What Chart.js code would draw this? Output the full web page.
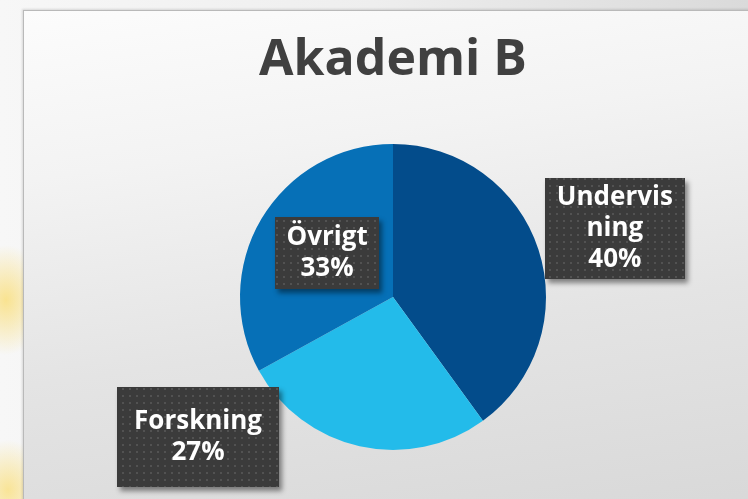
<!DOCTYPE html>
<html>
<head>
<meta charset="utf-8">
<script src="https://cdn.jsdelivr.net/npm/chart.js@4/dist/chart.umd.min.js"></script>
<style>
  html, body { margin: 0; padding: 0; }
  body {
    width: 748px; height: 499px; overflow: hidden; position: relative;
    background:
      radial-gradient(ellipse 40px 55px at 6px 300px, rgba(250, 220, 110, 0.75), rgba(250, 220, 110, 0) 100%),
      radial-gradient(ellipse 40px 50px at 8px 490px, rgba(250, 220, 110, 0.7), rgba(250, 220, 110, 0) 100%),
      linear-gradient(90deg, #f7f7f7 0%, #eeeeee 50%, #dadada 100%);
  }
  #panel {
    position: absolute; left: 23px; top: 10px; width: 740px; height: 500px;
    border: 1px solid #b9b9b9;
    box-shadow: -1px -1px 2px rgba(0, 0, 0, 0.12);
    background: linear-gradient(172deg, #fcfcfc 0%, #f3f3f3 28%, #e4e4e4 62%, #d8d8d8 100%);
  }
  #chart { position: absolute; left: 0; top: 0; }
</style>
</head>
<body>
<div id="panel"></div>
<canvas id="chart" width="748" height="499"></canvas>
<script>
const title = 'Akademi B';
const categories = ['Undervisning', 'Forskning', 'Övrigt'];
const shares = [40, 27, 33];
const sliceColors = ['#034c8b', '#23bbea', '#0670b7'];

// label boxes: where they sit around the pie and how the text wraps
const labelBoxes = [
  { angle: -17.2, dist: 1.518, w: 140, h: 101, lines: ['Undervis', 'ning'] },
  { angle: 144.3, dist: 1.569, w: 162, h: 100, lines: ['Forskning'] },
  { angle: -146.3, dist: 0.518, w: 104, h: 72, lines: ['Övrigt'] }
];

function dotPattern(ctx) {
  const c = document.createElement('canvas');
  c.width = 7; c.height = 7;
  const p = c.getContext('2d');
  p.fillStyle = '#3b3b3b';
  p.fillRect(0, 0, 7, 7);
  p.fillStyle = '#525252';
  p.fillRect(3, 3, 2, 2);
  return ctx.createPattern(c, 'repeat');
}

const boxLabels = {
  id: 'boxLabels',
  afterDatasetsDraw(chart, args, opts) {
    const ctx = chart.ctx;
    const meta = chart.getDatasetMeta(0);
    const values = chart.data.datasets[0].data;
    const total = values.reduce((a, b) => a + b, 0);
    const fill = dotPattern(ctx);
    meta.data.forEach((arc, i) => {
      const b = opts.boxes[i];
      const a = b.angle * Math.PI / 180;
      const cx = arc.x + Math.cos(a) * b.dist * arc.outerRadius;
      const cy = arc.y + Math.sin(a) * b.dist * arc.outerRadius;
      const x0 = Math.round(cx - b.w / 2), y0 = Math.round(cy - b.h / 2);

      ctx.save();
      ctx.shadowColor = 'rgba(0,0,0,0.45)';
      ctx.shadowBlur = 5;
      ctx.shadowOffsetX = 3;
      ctx.shadowOffsetY = 4;
      ctx.fillStyle = '#3b3b3b';
      ctx.fillRect(x0, y0, b.w, b.h);
      ctx.restore();
      ctx.save();
      ctx.fillStyle = fill;
      ctx.fillRect(x0, y0, b.w, b.h);

      const lines = b.lines.concat([Math.round(values[i] / total * 100) + '%']);
      ctx.fillStyle = '#ffffff';
      ctx.font = 'bold 26px "Open Sans"';
      ctx.textAlign = 'center';
      ctx.textBaseline = 'middle';
      const lh = opts.lineHeight;
      lines.forEach((t, k) => {
        ctx.fillText(t, cx, cy + (k - (lines.length - 1) / 2) * lh);
      });
      ctx.restore();
    });
  }
};

new Chart(document.getElementById('chart'), {
  type: 'pie',
  data: {
    labels: categories,
    datasets: [{
      data: shares,
      backgroundColor: sliceColors,
      borderWidth: 0
    }]
  },
  options: {
    responsive: false,
    animation: false,
    events: [],
    layout: { padding: { left: 240, right: 202, top: 0, bottom: 49 } },
    plugins: {
      legend: { display: false },
      tooltip: { enabled: false },
      title: {
        display: true,
        text: title,
        color: '#404040',
        font: { family: 'Open Sans', weight: 'bold', size: 50, lineHeight: 1.2 },
        padding: { top: 31, bottom: 53 }
      },
      boxLabels: { boxes: labelBoxes, lineHeight: 31 }
    }
  },
  plugins: [boxLabels]
});
</script>
</body>
</html>
